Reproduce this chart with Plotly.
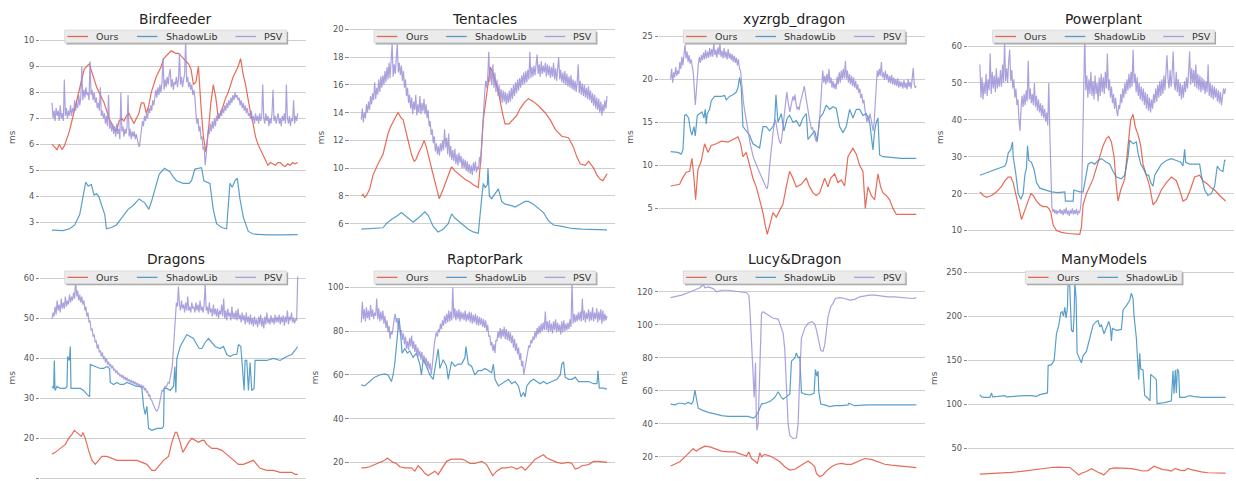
import numpy as np
import plotly.graph_objects as go

# ---------------- data (frames on x, milliseconds on y) ----------------
# Birdfeeder
bird_ours = [6.0, 5.9, 5.8, 6.0, 5.8, 5.95, 6.2, 6.5, 6.9, 7.3,
             7.6, 8.0, 8.5, 8.9, 9.0, 9.1, 8.8, 8.5, 8.2, 8.0,
             7.8, 7.6, 7.3, 7.0, 6.8, 6.6, 6.5, 6.9, 7.0, 6.9,
             7.1, 7.2, 7.0, 6.8, 7.0, 7.2, 7.6, 7.6, 7.2, 7.5,
             8.0, 8.3, 8.6, 8.8, 9.0, 9.3, 9.4, 9.5, 9.6, 9.55,
             9.5, 9.5, 9.4, 9.3, 9.2, 9.1, 8.9, 8.3, 8.4, 9.0,
             7.5, 6.3, 5.7, 6.5, 7.6, 8.3, 7.8, 7.0, 7.2, 7.5,
             7.8, 8.0, 8.3, 8.6, 8.8, 9.0, 9.3, 8.7, 8.3, 7.7,
             7.2, 6.8, 6.3, 6.0, 5.8, 5.6, 5.4, 5.2, 5.3, 5.25,
             5.2, 5.3, 5.3, 5.2, 5.15, 5.25, 5.2, 5.3, 5.25, 5.3]
bird_shadow_t = [0, 33, 53, 68, 83, 91, 98, 101, 108, 118, 126, 133, 140, 148, 158, 163, 178, 193, 208, 228,
                 243, 261, 278, 290, 298, 308, 321, 337, 353, 363, 373, 393, 411, 418, 428, 448, 455, 473, 483, 493,
                 508, 523, 528, 533, 540, 548, 555, 563, 573, 588, 603, 643, 693, 736]
bird_shadow = [2.70, 2.68, 2.75, 2.9, 3.3, 3.8, 4.3, 4.55, 4.4, 4.45, 4.05, 4.1, 4.0, 3.7, 3.3, 2.75, 2.8, 2.9, 3.15, 3.5,
               3.65, 3.9, 3.75, 3.5, 3.8, 4.3, 4.85, 5.08, 4.95, 4.75, 4.6, 4.5, 4.5, 4.6, 5.05, 5.1, 4.6, 4.5, 3.5, 2.95,
               2.8, 2.75, 3.5, 4.5, 4.35, 4.6, 4.7, 3.9, 3.2, 2.65, 2.55, 2.52, 2.52, 2.53]
bird_psv = [7.6, 7.0, 7.3, 6.9, 7.4, 7.1, 7.3, 6.9, 7.5, 7.0, 7.2, 6.9, 8.5, 7.1, 7.4, 7.0, 7.3, 7.1, 7.5, 7.1,
            7.4, 7.2, 7.7, 7.3, 7.6, 7.4, 7.9, 7.5, 7.8, 9.0, 7.7, 8.1, 7.8, 8.2, 7.9, 8.0, 7.7, 9.2, 7.9, 8.1,
            7.7, 8.0, 7.6, 7.8, 7.4, 7.6, 7.3, 8.2, 7.1, 7.3, 7.0, 7.2, 6.8, 7.1, 6.7, 7.9, 6.6, 6.9, 6.5, 6.8,
            6.4, 6.7, 6.3, 6.8, 6.4, 6.6, 6.2, 8.0, 6.5, 6.7, 6.3, 6.6, 6.4, 6.7, 7.9, 6.3, 6.6, 6.2, 6.5, 6.3,
            6.5, 6.2, 6.4, 6.1, 6.0, 5.9, 6.3, 6.6, 6.9, 6.7, 7.1, 6.9, 7.2, 7.0, 7.4, 7.2, 7.5, 7.3, 7.7, 7.5,
            7.8, 8.1, 7.8, 8.2, 7.9, 8.3, 8.0, 8.4, 9.3, 8.1, 8.5, 8.2, 8.6, 8.3, 8.7, 8.9, 8.2, 8.5, 8.1, 8.4,
            8.3, 8.6, 8.2, 8.5, 9.5, 8.3, 8.6, 8.2, 8.5, 8.7, 10.0, 8.4, 8.6, 8.2, 8.4, 8.1, 8.3, 7.9, 8.1, 7.8,
            7.2, 6.8, 7.0, 6.5, 6.7, 6.2, 6.3, 5.8, 5.9, 5.2, 5.6, 6.3, 6.6, 6.4, 6.8, 6.5, 6.9, 6.6, 7.0, 6.7,
            7.1, 6.9, 7.2, 7.0, 7.3, 7.1, 7.4, 7.2, 7.5, 7.3, 7.6, 7.4, 7.7, 7.5, 7.8, 7.6, 7.9, 7.7, 8.0, 7.8,
            7.9, 7.7, 7.8, 7.5, 7.7, 7.4, 7.6, 7.3, 7.5, 7.2, 7.4, 7.1, 7.2, 7.0, 7.3, 6.9, 7.1, 6.8, 7.2, 6.9,
            7.1, 6.8, 7.2, 6.9, 7.1, 8.3, 7.0, 6.8, 7.2, 6.9, 7.1, 6.7, 7.0, 6.8, 7.2, 8.1, 6.9, 7.1, 6.8, 7.0,
            7.2, 6.8, 7.0, 6.7, 7.1, 6.9, 7.2, 6.8, 8.3, 7.0, 6.8, 7.1, 6.7, 7.0, 6.9, 7.7, 6.8, 7.1, 6.9, 7.2]

# Tentacles
tent_ours_t = [0, 5, 10, 15, 25, 35, 50, 65, 80, 88, 105, 110, 120, 125, 135, 150, 158, 163, 173, 180,
               188, 195, 210, 225, 233, 245, 260, 270, 280, 295, 310, 325, 335, 350, 357, 365, 375, 386, 395, 410,
               422, 430, 442, 455, 465, 475, 490, 500, 515, 530, 550, 565, 580, 600, 620, 635, 645, 655, 670, 680,
               695, 705, 715, 723, 735]
tent_ours = [8.0, 8.1, 7.9, 8.0, 8.5, 9.5, 10.3, 11.0, 12.5, 13.0, 13.8, 14.0, 13.6, 13.5, 12.5, 11.0, 10.5, 10.6, 11.2, 11.5,
             12.0, 11.5, 10.0, 8.5, 7.8, 8.5, 9.5, 10.1, 9.8, 9.5, 9.2, 9.0, 8.8, 8.6, 10.5, 13.5, 15.5, 17.3, 16.8, 15.5,
             14.0, 13.2, 13.2, 13.5, 13.8, 14.3, 14.8, 15.0, 14.8, 14.5, 14.0, 13.5, 12.8, 12.3, 12.2, 11.5, 10.8, 10.3, 10.2, 10.5,
             10.0, 9.5, 9.2, 9.1, 9.6]
tent_shadow_t = [0, 30, 45, 65, 75, 90, 110, 120, 130, 145, 155, 175, 190, 200, 215, 230, 245, 260, 270, 280,
                 300, 320, 335, 350, 360, 365, 370, 377, 379, 383, 390, 400, 410, 420, 430, 450, 460, 475, 490, 500,
                 515, 530, 545, 560, 575, 600, 630, 660, 690, 735]
tent_shadow = [5.6, 5.65, 5.7, 5.7, 6.0, 6.3, 6.6, 6.8, 6.6, 6.3, 6.1, 6.5, 6.85, 6.6, 5.8, 5.4, 5.6, 6.0, 6.7, 6.4,
               6.0, 5.6, 5.4, 5.3, 7.8, 8.9, 8.6, 8.8, 10.0, 8.0, 7.8, 8.2, 8.5, 7.6, 7.4, 7.3, 7.2, 7.4, 7.6, 7.6,
               7.4, 7.1, 6.8, 6.2, 5.9, 5.8, 5.65, 5.6, 5.6, 5.55]
tent_psv = [13.5, 14.3, 13.3, 14.0, 13.6, 14.6, 14.0, 14.8, 14.2, 15.2, 14.6, 15.4, 14.9, 16.2, 15.0, 15.8, 15.3, 16.4, 15.5, 16.6,
            15.8, 16.7, 16.0, 17.0, 16.2, 17.3, 16.4, 17.6, 16.5, 17.8, 19.0, 16.6, 17.5, 16.8, 17.9, 19.0, 16.9, 17.6, 16.7, 17.4,
            16.3, 17.0, 15.8, 16.4, 15.2, 15.8, 14.7, 15.3, 14.3, 15.1, 13.9, 14.8, 14.2, 15.3, 13.8, 14.6, 14.0, 15.2, 13.9, 14.7,
            14.1, 15.0, 13.9, 14.6, 13.6, 14.2, 13.0, 13.4, 12.4, 12.8, 11.8, 12.3, 11.2, 11.8, 11.0, 11.6, 10.9, 11.8, 11.2, 12.0,
            11.3, 12.8, 11.5, 12.2, 11.0, 12.5, 10.8, 11.6, 10.6, 11.3, 10.5, 11.4, 10.3, 11.0, 10.2, 11.1, 10.4, 10.9, 10.0, 10.7,
            10.0, 10.6, 9.8, 10.5, 9.7, 10.3, 9.6, 10.2, 9.5, 10.4, 9.8, 10.5, 9.7, 10.1, 9.9, 10.8, 10.3, 11.8, 13.5, 14.8,
            15.4, 16.3, 15.8, 16.6, 18.4, 16.2, 17.2, 16.0, 17.5, 15.8, 16.9, 15.5, 16.4, 15.2, 16.0, 14.9, 15.7, 14.7, 15.6, 14.8,
            15.5, 14.6, 15.4, 14.7, 15.6, 14.8, 15.8, 15.0, 16.0, 15.2, 16.2, 15.4, 16.4, 15.6, 16.5, 15.8, 16.7, 16.0, 16.9, 16.1,
            17.0, 16.2, 17.1, 16.4, 18.4, 16.5, 17.3, 16.6, 17.4, 16.7, 17.6, 18.2, 16.8, 17.5, 16.6, 17.7, 16.8, 17.4, 16.9, 17.6,
            16.6, 17.5, 16.7, 17.4, 16.5, 17.3, 16.6, 17.6, 16.4, 17.2, 16.3, 17.0, 18.0, 16.4, 17.1, 16.2, 16.9, 16.1, 17.0, 16.0,
            16.8, 15.9, 16.6, 15.8, 16.7, 15.7, 16.4, 15.6, 16.3, 15.5, 16.2, 17.5, 15.4, 16.3, 15.3, 16.1, 15.2, 16.0, 15.1, 15.8,
            15.0, 15.9, 14.9, 15.6, 14.7, 15.4, 14.5, 15.3, 14.3, 15.1, 14.2, 15.0, 14.0, 14.8, 13.8, 14.6, 14.1, 14.9, 14.3, 15.2]

# xyzrgb_dragon
xyz_ours_t = [0, 12, 27, 37, 47, 57, 64, 69, 75, 82, 92, 102, 112, 122, 137, 152, 172, 187, 202, 210,
              217, 227, 237, 247, 257, 267, 277, 284, 290, 297, 307, 317, 327, 337, 347, 357, 367, 377, 392, 407,
              417, 427, 437, 447, 462, 472, 480, 492, 502, 512, 522, 532, 547, 557, 567, 577, 584, 592, 602, 612,
              622, 630, 637, 647, 657, 667, 677, 692, 712, 737]
xyz_ours = [7.6, 7.7, 7.8, 8.6, 9.2, 9.3, 10.8, 9.0, 6.0, 9.5, 10.5, 12.5, 11.5, 12.3, 12.5, 12.8, 12.7, 13.0, 13.3, 12.5,
            11.0, 11.5, 10.0, 8.5, 7.5, 6.0, 4.5, 3.0, 2.0, 3.0, 4.5, 4.0, 4.8, 5.5, 7.5, 9.3, 8.5, 7.5, 7.8, 8.5,
            7.5, 6.8, 6.5, 6.8, 8.5, 7.5, 8.5, 9.0, 8.0, 8.3, 7.6, 11.0, 12.0, 11.3, 10.0, 9.3, 5.0, 7.5, 6.5, 6.0,
            9.0, 7.5, 6.8, 6.5, 6.0, 5.0, 4.3, 4.3, 4.3, 4.3]
xyz_shadow_t = [0, 22, 32, 37, 40, 42, 47, 54, 60, 64, 70, 74, 80, 87, 94, 100, 104, 107, 110, 117,
                122, 132, 152, 162, 167, 177, 187, 197, 202, 207, 212, 217, 227, 237, 247, 257, 267, 277, 287, 297,
                307, 312, 316, 322, 332, 340, 350, 357, 367, 377, 387, 397, 407, 412, 422, 432, 440, 447, 457, 467,
                477, 487, 497, 507, 517, 527, 537, 547, 557, 567, 577, 587, 597, 607, 612, 617, 622, 627, 637, 662,
                692, 737]
xyz_shadow = [11.6, 11.5, 11.3, 11.8, 14.0, 15.8, 15.9, 15.5, 14.0, 13.5, 14.5, 13.4, 15.8, 16.0, 16.2, 15.5, 16.5, 14.8, 16.0, 16.5,
              17.5, 18.0, 18.0, 18.1, 17.6, 18.0, 18.2, 18.5, 19.0, 20.2, 19.0, 14.5, 14.0, 13.5, 12.5, 12.2, 12.0, 14.5, 14.5, 14.0,
              14.5, 15.0, 18.2, 15.0, 16.0, 14.0, 15.5, 15.8, 15.0, 15.2, 14.5, 15.5, 16.0, 13.0, 13.5, 14.0, 12.8, 15.5, 16.0, 17.0,
              16.5, 16.8, 16.6, 14.5, 13.8, 14.5, 16.5, 15.5, 16.5, 16.5, 15.8, 16.0, 15.0, 11.8, 14.0, 15.0, 15.5, 11.2, 11.0, 10.9,
              10.8, 10.8]
xyz_psv = [20.0, 21.2, 19.6, 20.8, 20.2, 21.4, 20.4, 21.0, 20.6, 22.0, 21.2, 22.6, 21.6, 23.0, 24.0, 22.4, 23.2, 22.0, 22.8, 21.8,
           22.3, 21.5, 20.8, 19.0, 17.0, 18.5, 21.0, 21.8, 22.6, 21.9, 22.8, 22.2, 23.1, 22.3, 23.4, 22.4, 23.2, 22.5, 23.6, 22.6,
           23.5, 22.6, 24.2, 22.8, 23.4, 22.5, 23.7, 22.8, 24.1, 22.6, 23.3, 22.4, 23.6, 22.5, 23.2, 22.3, 23.5, 22.4, 23.0, 22.2,
           22.9, 22.0, 22.7, 21.9, 22.5, 21.6, 22.3, 21.2, 21.0, 19.5, 18.0, 17.2, 16.4, 15.6, 15.0, 14.2, 13.5, 12.8, 12.2, 11.5,
           11.2, 10.8, 10.4, 10.2, 9.9, 9.6, 9.3, 9.1, 8.8, 8.5, 8.2, 7.9, 7.6, 7.4, 7.3, 8.0, 9.5, 10.8, 12.0, 13.2,
           14.2, 14.8, 15.3, 14.6, 13.6, 13.2, 12.8, 12.5, 13.0, 14.2, 15.2, 16.0, 17.2, 18.5, 17.6, 16.8, 16.2, 16.8, 17.4, 18.0,
           17.5, 18.2, 17.2, 16.5, 16.8, 16.4, 17.2, 17.6, 18.0, 18.6, 19.2, 18.4, 17.6, 16.6, 16.0, 15.4, 14.8, 14.2, 14.4, 13.8,
           13.5, 13.0, 12.7, 13.4, 14.2, 15.4, 17.5, 19.8, 21.0, 19.6, 20.4, 19.4, 20.6, 19.6, 21.2, 19.5, 20.2, 19.0, 19.8, 18.9,
           19.5, 18.8, 20.3, 19.4, 20.8, 19.6, 21.0, 20.0, 21.2, 20.1, 22.1, 20.0, 21.0, 19.6, 20.6, 19.4, 20.4, 19.2, 20.2, 19.0,
           19.8, 18.8, 19.4, 18.4, 18.9, 17.8, 18.3, 17.2, 17.6, 16.5, 15.4, 15.0, 15.8, 15.2, 16.0, 15.2, 14.4, 14.0, 15.0, 17.0,
           20.2, 21.0, 20.3, 21.2, 20.4, 22.0, 20.2, 20.8, 19.9, 21.0, 20.0, 20.6, 19.6, 20.4, 19.5, 20.5, 19.4, 20.2, 19.3, 20.0,
           19.2, 20.1, 19.0, 19.8, 19.1, 19.7, 18.9, 19.9, 19.0, 19.6, 18.8, 20.0, 19.1, 19.7, 18.9, 19.8, 21.3, 19.4, 19.0, 19.2]

# Powerplant
pp_ours_t = [0, 10, 20, 35, 50, 65, 75, 85, 93, 100, 110, 120, 125, 133, 145, 153, 160, 170, 180, 190,
             200, 207, 213, 220, 230, 245, 265, 285, 300, 305, 310, 320, 330, 340, 350, 360, 370, 380, 387, 395,
             403, 410, 415, 423, 435, 445, 453, 460, 467, 475, 483, 490, 500, 510, 520, 530, 545, 560, 575, 590,
             600, 610, 620, 630, 645, 660, 670, 685, 695, 705, 720, 730, 738]
pp_ours = [20.5, 19.5, 19.0, 19.5, 20.5, 22.0, 23.5, 24.5, 24.5, 23.0, 19.0, 14.5, 13.0, 15.0, 18.0, 20.0, 19.5, 18.0, 17.0, 16.5,
           16.5, 16.0, 15.0, 11.5, 10.0, 9.5, 9.2, 9.0, 9.0, 11.0, 17.0, 20.0, 22.0, 24.0, 27.0, 30.0, 33.0, 35.0, 35.5, 34.0,
           30.0, 22.0, 18.0, 21.0, 24.0, 33.0, 40.0, 41.5, 38.0, 36.0, 33.0, 28.0, 25.0, 22.0, 17.0, 18.0, 21.0, 23.0, 24.5, 23.5,
           21.0, 18.0, 18.5, 20.5, 24.5, 25.0, 23.5, 22.5, 21.5, 21.0, 19.5, 18.5, 18.0]
pp_shadow_t = [0, 15, 35, 55, 75, 80, 85, 93, 98, 100, 107, 115, 123, 130, 135, 140, 143, 147, 155, 163,
               170, 180, 195, 215, 235, 255, 257, 280, 282, 300, 310, 320, 325, 335, 345, 355, 365, 380, 390, 400,
               410, 425, 435, 445, 450, 460, 470, 475, 483, 490, 500, 507, 513, 520, 525, 535, 545, 560, 575, 590,
               603, 610, 615, 618, 630, 645, 660, 665, 675, 685, 695, 705, 713, 720, 730, 735, 738]
pp_shadow = [25.0, 25.5, 26.0, 26.8, 27.5, 28.5, 31.0, 32.0, 34.0, 30.0, 26.0, 20.0, 18.5, 20.0, 25.0, 27.0, 33.0, 29.0, 28.5, 26.5,
             23.0, 21.5, 21.0, 20.5, 20.3, 20.5, 18.0, 18.0, 21.0, 20.5, 20.5, 25.0, 28.0, 28.5, 28.0, 29.0, 29.5, 28.5, 28.0, 26.0,
             24.5, 24.0, 25.0, 30.0, 34.5, 33.5, 34.0, 31.0, 28.0, 27.0, 25.0, 25.0, 23.0, 22.0, 25.0, 26.5, 28.0, 29.0, 29.5, 29.0,
             28.5, 27.5, 32.0, 28.5, 28.0, 28.0, 28.0, 25.0, 21.0, 19.5, 20.0, 22.0, 27.5, 26.5, 26.0, 29.0, 29.0]
pp_psv = [55.0, 46.0, 51.5, 45.5, 50.0, 47.0, 52.5, 46.5, 51.0, 48.0, 58.0, 47.0, 53.0, 48.5, 52.0, 47.5, 54.0, 48.5, 51.5, 49.0,
          53.5, 49.0, 55.0, 50.0, 61.0, 50.5, 54.0, 50.0, 56.0, 59.0, 50.5, 53.5, 48.5, 51.0, 46.0, 48.5, 44.0, 45.5, 40.0, 37.0,
          43.0, 46.5, 43.5, 47.0, 44.0, 48.0, 45.0, 56.0, 45.5, 48.5, 44.5, 47.0, 44.0, 50.0, 43.5, 46.5, 42.5, 45.5, 42.0, 44.5,
          41.0, 44.0, 40.5, 43.0, 39.5, 42.0, 38.5, 50.0, 37.0, 28.0, 16.5, 15.0, 15.8, 14.6, 15.6, 14.4, 15.4, 14.8, 15.8, 14.5,
          15.5, 14.2, 15.8, 14.6, 16.2, 14.4, 15.4, 14.0, 15.6, 14.6, 16.0, 14.3, 15.5, 14.5, 15.9, 14.2, 15.3, 14.8, 16.4, 20.0,
          38.0, 47.0, 63.0, 48.0, 52.0, 46.0, 51.0, 47.0, 53.0, 46.5, 50.5, 45.5, 52.0, 47.0, 50.0, 45.0, 51.5, 46.5, 52.5, 47.5,
          51.5, 47.0, 53.0, 48.5, 58.0, 48.0, 51.0, 46.0, 49.0, 44.5, 47.0, 43.0, 46.0, 42.5, 41.0, 44.0, 43.0, 47.0, 44.5, 48.5,
          46.0, 50.0, 47.0, 51.0, 48.0, 52.5, 48.5, 53.0, 49.0, 59.0, 50.0, 52.5, 47.5, 51.5, 46.5, 50.0, 45.5, 49.0, 45.0, 48.5,
          44.0, 47.5, 43.0, 47.0, 42.5, 46.0, 42.0, 45.5, 43.0, 47.0, 44.5, 48.5, 45.0, 49.5, 46.0, 50.5, 46.5, 51.0, 47.0, 52.0,
          48.0, 53.0, 57.5, 51.0, 48.5, 53.5, 49.0, 52.5, 58.5, 50.0, 48.0, 53.0, 47.5, 51.0, 46.5, 50.0, 45.5, 49.5, 46.0, 50.5,
          47.5, 51.5, 48.5, 53.0, 58.5, 49.5, 54.0, 50.0, 53.5, 49.0, 55.0, 48.5, 52.5, 48.0, 52.0, 47.5, 51.5, 48.0, 51.0, 47.0,
          50.5, 47.5, 55.0, 46.5, 50.0, 46.0, 49.5, 45.5, 49.0, 46.0, 48.5, 45.0, 48.0, 44.5, 47.5, 44.0, 46.5, 48.5, 47.0, 48.5]

# Dragons
drag_ours_t = [0, 10, 25, 40, 50, 60, 67, 75, 83, 88, 93, 100, 110, 120, 130, 140, 150, 165, 180, 195,
               215, 235, 255, 270, 285, 300, 310, 320, 335, 350, 360, 370, 375, 385, 393, 400, 410, 420, 430, 440,
               450, 457, 465, 480, 495, 510, 525, 545, 560, 575, 590, 605, 615, 625, 645, 665, 685, 705, 720, 730,
               738]
drag_ours = [16.0, 16.5, 17.5, 18.5, 20.0, 21.0, 22.0, 21.5, 21.0, 20.5, 21.5, 20.0, 17.0, 14.5, 13.5, 14.5, 15.5, 15.5, 15.0, 14.5,
             14.5, 14.5, 14.5, 14.0, 13.5, 12.0, 12.0, 13.0, 14.5, 15.5, 19.0, 21.5, 21.5, 19.0, 16.5, 17.5, 19.0, 20.0, 19.5, 19.0,
             19.5, 19.5, 18.5, 17.5, 17.5, 17.0, 16.0, 14.5, 13.5, 13.5, 14.0, 14.5, 13.5, 12.5, 12.0, 12.0, 11.5, 11.5, 11.5, 11.0,
             11.0]
drag_shadow_t = [0, 5, 7, 9, 15, 25, 40, 45, 47, 52, 55, 57, 70, 85, 95, 105, 113, 115, 130, 145,
                 155, 165, 173, 175, 185, 195, 205, 215, 225, 240, 255, 265, 270, 275, 280, 285, 290, 300, 315, 330,
                 335, 337, 345, 355, 365, 369, 372, 375, 385, 395, 405, 415, 425, 435, 442, 450, 460, 470, 480, 490,
                 505, 515, 525, 535, 545, 555, 560, 567, 570, 577, 580, 585, 590, 595, 600, 607, 610, 625, 645, 665,
                 685, 705, 720, 730, 738]
drag_shadow = [33.0, 32.5, 39.5, 32.0, 33.0, 32.5, 32.5, 33.0, 40.5, 39.5, 43.0, 32.5, 32.5, 32.5, 32.0, 31.0, 30.5, 38.5, 38.0, 37.5,
               37.5, 38.0, 37.5, 34.0, 33.5, 34.0, 33.5, 33.5, 34.0, 33.5, 33.0, 33.0, 32.5, 28.0, 26.0, 28.0, 22.5, 22.0, 22.5, 22.5,
               23.0, 32.5, 32.5, 32.0, 33.0, 38.0, 31.5, 40.0, 43.0, 44.5, 46.0, 45.5, 45.0, 43.5, 42.5, 42.5, 44.0, 45.0, 44.0, 43.0,
               42.5, 43.0, 41.0, 40.5, 41.0, 41.0, 43.5, 43.0, 40.0, 32.0, 39.5, 39.5, 32.0, 39.0, 32.0, 32.5, 39.5, 39.5, 39.5, 40.0,
               39.5, 40.5, 41.0, 42.0, 43.0]
drag_psv = [50.0, 51.5, 50.5, 53.0, 51.0, 54.5, 52.0, 53.5, 51.5, 55.0, 52.5, 54.0, 52.5, 55.5, 53.0, 54.5, 53.5, 56.0, 54.0, 55.5,
            54.5, 56.5, 55.0, 59.5, 55.5, 57.0, 54.5, 56.0, 54.0, 55.5, 53.5, 54.5, 52.0, 53.0, 50.5, 51.5, 49.0, 49.5, 47.0, 47.5,
            45.5, 46.0, 44.0, 44.5, 42.5, 43.5, 41.5, 42.0, 40.5, 41.5, 39.8, 40.5, 39.0, 40.0, 38.5, 39.2, 38.0, 38.6, 37.5, 38.2,
            37.0, 37.4, 36.4, 37.0, 36.0, 36.4, 35.5, 36.0, 35.2, 35.8, 34.8, 35.4, 34.5, 35.2, 34.3, 34.8, 34.0, 34.6, 33.8, 34.4,
            33.6, 34.2, 33.3, 33.9, 33.0, 33.6, 32.8, 33.4, 32.5, 33.2, 32.0, 32.6, 31.5, 31.8, 30.5, 31.0, 29.8, 29.5, 28.8, 28.2,
            27.5, 27.0, 26.8, 27.2, 28.0, 29.5, 31.5, 32.0, 31.8, 32.5, 33.0, 32.8, 33.5, 34.0, 33.8, 35.0, 36.0, 38.0, 42.0, 46.0,
            52.0, 54.0, 53.0, 58.0, 53.5, 52.0, 54.5, 52.5, 53.5, 51.5, 54.0, 52.0, 55.5, 52.0, 53.0, 51.5, 54.0, 52.5, 53.0, 51.5,
            54.0, 52.0, 53.5, 51.5, 54.5, 52.0, 53.0, 51.5, 53.5, 58.5, 52.0, 53.0, 51.0, 54.0, 51.5, 52.5, 50.5, 53.5, 51.0, 52.5,
            50.5, 52.5, 50.0, 52.0, 51.0, 53.5, 50.5, 55.0, 50.0, 52.0, 49.5, 52.5, 50.5, 51.5, 49.5, 53.0, 50.0, 51.5, 49.8, 52.0,
            49.5, 52.5, 49.8, 51.0, 49.0, 51.5, 49.5, 50.8, 48.5, 51.5, 49.0, 50.5, 48.5, 51.0, 48.5, 50.2, 48.0, 50.5, 48.5, 49.8,
            47.8, 50.5, 48.5, 51.0, 48.0, 50.0, 47.5, 50.5, 48.5, 51.5, 48.8, 50.0, 48.5, 50.8, 49.0, 50.2, 48.5, 51.0, 49.0, 50.5,
            49.0, 51.0, 48.5, 50.5, 49.0, 50.8, 48.2, 50.5, 49.0, 52.0, 48.5, 50.5, 49.5, 51.5, 49.0, 50.2, 48.8, 50.0, 49.5, 60.5]

# RaptorPark
rap_ours_t = [0, 10, 25, 40, 55, 70, 78, 85, 95, 105, 115, 130, 150, 160, 170, 180, 190, 200, 210, 220,
              230, 245, 255, 270, 285, 300, 310, 325, 340, 360, 375, 385, 393, 405, 420, 435, 450, 465, 480, 490,
              500, 520, 535, 545, 555, 570, 585, 600, 620, 630, 640, 650, 660, 680, 695, 710, 725, 735]
rap_ours = [17.5, 17.5, 18.0, 19.0, 20.0, 21.0, 22.0, 21.0, 20.0, 19.5, 18.0, 17.5, 17.5, 16.0, 18.5, 17.0, 15.0, 14.0, 15.0, 16.0,
            14.5, 18.0, 20.5, 21.5, 21.5, 21.5, 21.0, 19.5, 19.5, 20.5, 19.0, 16.5, 14.0, 16.0, 17.5, 17.5, 18.0, 17.0, 18.0, 16.5,
            18.0, 21.5, 22.5, 23.5, 22.0, 21.0, 20.0, 19.5, 20.0, 19.5, 17.0, 17.5, 18.5, 19.0, 20.5, 20.5, 20.0, 20.0]
rap_shadow_t = [0, 10, 25, 40, 55, 70, 80, 90, 95, 100, 105, 110, 113, 118, 122, 130, 138, 145, 155, 165,
                175, 180, 185, 195, 205, 215, 223, 230, 235, 245, 255, 260, 270, 280, 290, 300, 310, 313, 320, 330,
                340, 350, 360, 370, 380, 390, 395, 400, 410, 420, 430, 440, 450, 460, 470, 478, 485, 490, 495, 505,
                515, 525, 535, 545, 555, 570, 585, 595, 600, 605, 610, 620, 630, 640, 650, 665, 680, 695, 705, 708,
                712, 725, 735]
rap_shadow = [55.5, 55.0, 57.0, 59.0, 60.0, 60.5, 60.0, 57.0, 60.0, 65.0, 73.0, 83.0, 86.0, 78.0, 70.0, 72.0, 70.0, 71.0, 68.0, 70.0,
              65.0, 60.0, 67.0, 64.0, 60.0, 58.0, 65.0, 72.0, 63.0, 67.0, 64.0, 58.0, 66.0, 64.0, 65.0, 65.0, 68.0, 73.0, 65.0, 64.0,
              60.0, 62.0, 62.0, 63.0, 62.0, 61.0, 65.0, 58.0, 55.0, 56.0, 57.0, 58.0, 56.0, 57.0, 55.0, 50.0, 52.0, 50.0, 55.0, 57.0,
              58.0, 57.0, 56.0, 57.0, 56.0, 57.0, 58.0, 60.0, 65.0, 66.0, 59.0, 58.0, 58.0, 59.0, 57.0, 57.0, 57.0, 56.0, 56.0, 62.0,
              54.0, 54.0, 53.5]
rap_psv = [84.0, 93.5, 85.5, 90.0, 84.5, 91.0, 86.0, 89.5, 85.0, 92.0, 86.5, 90.0, 85.5, 88.5, 87.0, 95.0, 85.5, 90.5, 84.5, 89.0,
           85.0, 89.5, 83.5, 87.0, 81.5, 85.0, 79.5, 82.5, 76.5, 80.0, 78.5, 83.0, 85.5, 88.0, 84.0, 86.0, 81.0, 83.5, 78.5, 80.5,
           76.0, 79.0, 74.0, 77.5, 72.0, 75.5, 71.5, 77.0, 73.0, 78.0, 72.0, 75.5, 70.5, 74.0, 69.0, 72.5, 68.5, 71.0, 67.0, 70.5,
           66.0, 69.0, 65.0, 68.0, 63.5, 66.5, 62.5, 65.5, 60.0, 64.0, 70.0, 74.0, 77.0, 79.5, 77.5, 81.0, 79.5, 83.5, 81.0, 85.0,
           82.5, 87.0, 83.5, 88.0, 84.0, 89.5, 84.5, 89.0, 85.0, 100.0, 86.0, 90.5, 85.0, 89.5, 85.5, 90.0, 84.5, 89.0, 85.5, 88.5,
           85.0, 89.5, 84.5, 88.0, 85.0, 89.0, 84.0, 88.5, 83.5, 87.5, 84.0, 88.0, 83.0, 87.0, 82.5, 86.5, 83.0, 86.0, 82.0, 85.5,
           81.5, 85.0, 80.0, 83.0, 77.5, 78.0, 73.5, 75.0, 71.0, 74.0, 70.0, 76.0, 75.5, 80.0, 77.0, 81.5, 76.5, 81.0, 77.5, 82.0,
           76.5, 81.0, 76.0, 80.0, 75.5, 79.5, 74.5, 78.0, 72.5, 76.5, 71.0, 74.5, 69.5, 72.5, 67.0, 70.0, 64.0, 66.5, 60.0, 63.0,
           66.0, 69.5, 71.0, 73.5, 72.5, 76.0, 74.5, 77.5, 76.0, 80.0, 77.0, 81.5, 78.5, 82.5, 79.0, 83.5, 80.0, 84.0, 80.5, 89.0,
           80.5, 84.5, 79.5, 85.0, 80.0, 83.5, 79.0, 84.5, 80.5, 85.5, 79.5, 84.0, 80.0, 83.0, 78.5, 84.5, 79.5, 85.0, 80.0, 83.5,
           80.5, 84.0, 81.0, 85.5, 82.0, 103.0, 83.5, 88.0, 84.0, 87.5, 84.5, 88.5, 85.0, 89.0, 84.5, 95.0, 85.0, 89.5, 84.0, 88.5,
           85.5, 90.0, 84.5, 89.0, 85.0, 91.0, 84.5, 88.5, 85.5, 90.5, 84.0, 89.0, 85.0, 90.0, 83.5, 89.5, 84.5, 88.0, 85.0, 87.0]

# Lucy&Dragon
lucy_ours_t = [0, 13, 28, 43, 58, 68, 73, 78, 88, 103, 118, 133, 153, 173, 193, 213, 228, 235, 243, 253,
               261, 268, 273, 283, 298, 313, 328, 343, 358, 373, 388, 403, 413, 423, 433, 438, 448, 458, 468, 483,
               498, 513, 528, 543, 563, 583, 603, 623, 643, 663, 683, 703, 723, 738]
lucy_ours = [14.5, 15.5, 17.0, 20.0, 23.0, 25.0, 24.0, 23.5, 25.0, 26.5, 26.0, 25.0, 23.5, 23.0, 23.0, 21.5, 20.5, 23.0, 19.0, 17.5,
             16.0, 22.5, 20.0, 21.5, 20.5, 19.0, 17.0, 14.0, 12.0, 12.5, 14.5, 16.5, 17.5, 16.0, 14.0, 10.0, 8.0, 9.0, 11.5, 14.0,
             15.5, 16.0, 15.5, 15.5, 17.5, 19.0, 18.5, 17.0, 15.5, 15.0, 14.5, 14.0, 13.5, 13.5]
lucy_shadow_t = [0, 13, 23, 33, 43, 53, 63, 68, 73, 78, 83, 93, 113, 133, 153, 173, 193, 213, 233, 248,
                 253, 263, 273, 283, 298, 313, 323, 333, 338, 348, 358, 363, 373, 378, 383, 388, 393, 403, 418, 431,
                 435, 439, 443, 445, 451, 463, 478, 493, 513, 533, 535, 553, 593, 633, 683, 738]
lucy_shadow = [52.0, 51.5, 52.5, 52.5, 52.0, 53.0, 52.0, 54.0, 60.5, 55.0, 49.5, 48.5, 47.0, 46.0, 45.0, 44.5, 44.5, 44.5, 44.5, 43.5,
               44.0, 47.0, 52.0, 52.5, 53.5, 56.0, 59.5, 56.0, 55.0, 56.5, 58.0, 78.0, 80.0, 83.0, 80.0, 80.5, 59.0, 58.0, 57.5, 58.5,
               73.0, 69.0, 72.0, 60.0, 52.0, 51.5, 50.5, 51.0, 51.0, 51.5, 52.5, 51.0, 51.5, 51.5, 51.5, 51.5]
lucy_psv_t = [0, 13, 33, 53, 73, 88, 98, 103, 113, 128, 138, 153, 173, 193, 213, 228, 235, 238, 243, 248,
              251, 253, 255, 257, 259, 263, 268, 273, 278, 293, 308, 323, 328, 338, 343, 348, 353, 358, 368, 378,
              383, 388, 393, 403, 413, 425, 433, 438, 445, 451, 458, 463, 473, 481, 488, 495, 508, 523, 538, 553,
              568, 583, 598, 613, 633, 653, 673, 693, 713, 728, 738]
lucy_psv = [116.5, 117.0, 118.0, 119.5, 121.5, 122.5, 124.5, 122.5, 123.0, 122.0, 120.0, 121.0, 121.0, 120.5, 120.0, 119.5, 118.0, 110.0, 90.0, 65.0,
            56.0, 66.0, 77.0, 50.0, 36.0, 40.0, 70.0, 107.0, 108.0, 106.0, 104.0, 103.5, 101.0, 95.0, 85.0, 60.0, 40.0, 33.0, 31.0, 31.5,
            40.0, 70.0, 92.0, 98.0, 101.0, 102.0, 100.5, 97.0, 90.0, 84.5, 84.0, 88.0, 105.0, 111.0, 113.0, 116.0, 116.5, 116.0, 115.0, 115.5,
            117.0, 117.5, 118.0, 118.0, 117.5, 117.0, 117.0, 116.5, 116.0, 116.0, 116.5]

# ManyModels
many_ours_t = [0, 35, 65, 95, 125, 145, 165, 175, 195, 215, 235, 255, 270, 280, 290, 297, 305, 320, 335, 345,
               355, 365, 372, 380, 390, 405, 425, 445, 460, 475, 490, 505, 515, 523, 535, 550, 565, 575, 587, 600,
               615, 625, 635, 650, 665, 685, 705, 720, 738]
many_ours = [21.0, 21.5, 22.0, 23.0, 24.0, 25.0, 26.5, 27.0, 27.5, 28.5, 29.0, 28.5, 28.5, 25.5, 22.5, 20.0, 22.0, 24.0, 27.0, 24.5,
             23.0, 21.5, 20.0, 23.0, 27.0, 28.0, 28.0, 27.5, 27.0, 26.0, 24.5, 25.0, 28.0, 30.0, 28.0, 26.0, 25.5, 24.5, 27.5, 25.5,
             25.0, 27.5, 26.0, 24.5, 23.5, 22.5, 22.5, 22.0, 22.0]
many_shadow_t = [0, 5, 15, 30, 35, 38, 55, 75, 80, 95, 115, 135, 155, 170, 180, 195, 203, 205, 215, 223,
                 230, 237, 243, 247, 251, 255, 259, 263, 265, 269, 271, 275, 280, 283, 285, 289, 292, 300, 305, 310,
                 320, 330, 340, 350, 355, 360, 365, 373, 380, 387, 392, 395, 398, 410, 425, 430, 440, 450, 455, 460,
                 463, 470, 477, 480, 483, 490, 495, 505, 511, 513, 525, 530, 532, 555, 575, 580, 583, 587, 590, 593,
                 597, 600, 615, 630, 640, 665, 695, 738]
many_shadow = [111.0, 108.5, 108.0, 108.0, 113.0, 108.5, 109.0, 110.0, 108.5, 109.0, 109.0, 110.0, 110.0, 109.0, 111.0, 112.5, 113.0, 144.0, 145.0, 150.0,
               180.0, 190.0, 204.0, 205.0, 200.0, 210.0, 198.0, 210.0, 240.0, 242.0, 220.0, 184.0, 182.0, 200.0, 238.0, 220.0, 158.0, 150.0, 147.0, 155.0,
               160.0, 175.0, 190.0, 194.0, 195.0, 188.0, 190.0, 180.0, 187.0, 194.0, 187.0, 172.0, 186.0, 184.0, 185.0, 207.0, 212.0, 218.0, 226.0, 220.0,
               200.0, 175.0, 128.0, 158.0, 140.0, 139.0, 110.0, 107.0, 104.0, 134.0, 130.0, 128.0, 101.0, 102.0, 104.0, 138.0, 112.0, 139.0, 113.0, 140.0,
               137.0, 108.0, 108.0, 110.0, 109.0, 108.0, 108.0, 108.0]

titles = ["Birdfeeder", "Tentacles", "xyzrgb_dragon", "Powerplant",
          "Dragons", "RaptorPark", "Lucy&Dragon", "ManyModels"]
yticks = [[3, 4, 5, 6, 7, 8, 9, 10], [6, 8, 10, 12, 14, 16, 18, 20], [5, 10, 15, 20, 25],
          [10, 20, 30, 40, 50, 60], [10, 20, 30, 40, 50, 60], [20, 40, 60, 80, 100],
          [20, 40, 60, 80, 100, 120], [50, 100, 150, 200, 250]]


def uni(vals, span):
    return np.linspace(0, span, len(vals))


series = [
    [("Ours", uni(bird_ours, 736), bird_ours), ("ShadowLib", bird_shadow_t, bird_shadow), ("PSV", uni(bird_psv, 736), bird_psv)],
    [("Ours", tent_ours_t, tent_ours), ("ShadowLib", tent_shadow_t, tent_shadow), ("PSV", uni(tent_psv, 735), tent_psv)],
    [("Ours", xyz_ours_t, xyz_ours), ("ShadowLib", xyz_shadow_t, xyz_shadow), ("PSV", uni(xyz_psv, 737), xyz_psv)],
    [("Ours", pp_ours_t, pp_ours), ("ShadowLib", pp_shadow_t, pp_shadow), ("PSV", uni(pp_psv, 738), pp_psv)],
    [("Ours", drag_ours_t, drag_ours), ("ShadowLib", drag_shadow_t, drag_shadow), ("PSV", uni(drag_psv, 738), drag_psv)],
    [("Ours", rap_ours_t, rap_ours), ("ShadowLib", rap_shadow_t, rap_shadow), ("PSV", uni(rap_psv, 735), rap_psv)],
    [("Ours", lucy_ours_t, lucy_ours), ("ShadowLib", lucy_shadow_t, lucy_shadow), ("PSV", lucy_psv_t, lucy_psv)],
    [("Ours", many_ours_t, many_ours), ("ShadowLib", many_shadow_t, many_shadow)],
]

# ---------------- styling / layout ----------------
W, H = 1236, 481
COLORS = {"Ours": "rgba(226,74,51,0.82)", "ShadowLib": "rgba(52,138,189,0.82)", "PSV": "rgba(152,142,213,0.82)"}
FONT = "DejaVu Sans"
COL_LEFT = [40.4, 349.7, 659.0, 968.3]
PLOT_W = 265.5
ROWS = [(25.0, 240.0), (265.0, 481.0)]
DATA_L, DATA_R = 11.6, 257.3
TICK_PIX = [(10, 37.7, 3, 220.7), (20, 26.7, 6, 222.0), (25, 33.3, 5, 206.7), (60, 43.3, 10, 229.0),
            (60, 277.3, 10, 478.3), (100, 286.3, 20, 462.3), (120, 290.7, 20, 456.7), (250, 270.7, 50, 448.3)]
TITLE_Y = [16, 258]
MS_Y = [135, 377]
LEG_TOP = [27.3, 269.7]
LEG_H = 12.8
LEG_FS = 9.5
TEXT_W = {"Ours": 22.4, "ShadowLib": 51.5, "PSV": 18.3}   # approx rendered label widths (px)
LINE_LEN, GAP_TXT, GAP_ITEM, PAD_L, PAD_R = 20.6, 7.7, 18.7, 2.7, 4.6


def px(x):
    return x / W


def py(y):
    return 1 - y / H


fig = go.Figure()
layout = dict(width=W, height=H, margin=dict(l=0, r=0, t=0, b=0),
              paper_bgcolor="white", plot_bgcolor="white", showlegend=False,
              font=dict(family=FONT, color="#555555"))
annotations = []
shapes = []

for i, ser in enumerate(series):
    row, col = divmod(i, 4)
    left = COL_LEFT[col]
    top, bot = ROWS[row]
    suffix = "" if i == 0 else str(i + 1)
    span = max(max(s[1]) for s in ser)
    fpp = span / (DATA_R - DATA_L)
    xr = [-DATA_L * fpp, span + (PLOT_W - DATA_R) * fpp]
    v1, p1, v2, p2 = TICK_PIX[i]
    sc = (p2 - p1) / (v1 - v2)
    yr = [v2 - (bot - p2) / sc, v1 + (p1 - top) / sc]

    layout[f"xaxis{suffix}"] = dict(domain=[px(left), px(left + PLOT_W)], range=xr, anchor=f"y{suffix}",
                                    showgrid=False, zeroline=False, showticklabels=False, showline=False, ticks="")
    layout[f"yaxis{suffix}"] = dict(domain=[py(bot), py(top)], range=yr, anchor=f"x{suffix}",
                                    tickvals=yticks[i], showgrid=True, gridcolor="#CFCFCF", gridwidth=1,
                                    zeroline=False, showline=False, ticks="outside", ticklen=3.5,
                                    tickcolor="#8A8A8A", tickwidth=1,
                                    tickfont=dict(family=FONT, size=8.3, color="#555555"))
    for name, xs, ys in ser:
        fig.add_trace(go.Scatter(x=list(xs), y=ys, mode="lines", name=name,
                                 line=dict(color=COLORS[name], width=1.2),
                                 xaxis=f"x{suffix}", yaxis=f"y{suffix}", showlegend=False,
                                 hoverinfo="skip"))

    center = left + PLOT_W / 2 + 2.5
    annotations.append(dict(text=titles[i], x=px(center), y=py(TITLE_Y[row]), xref="paper", yref="paper",
                            showarrow=False, xanchor="center", yanchor="middle",
                            font=dict(family=FONT, size=13.8, color="#222222")))
    ms_off = 35 if max(yticks[i]) >= 100 else 28.5
    annotations.append(dict(text="ms", x=px(left - ms_off), y=py(MS_Y[row]), xref="paper", yref="paper",
                            showarrow=False, xanchor="center", yanchor="middle", textangle=-90,
                            font=dict(family=FONT, size=9, color="#555555")))

    # legend box drawn as shapes + text (fancy box with drop shadow)
    names = [s[0] for s in ser]
    width = PAD_L + PAD_R + sum(LINE_LEN + GAP_TXT + TEXT_W[n] for n in names) + GAP_ITEM * (len(names) - 1)
    bx0 = center - width / 2
    bx1 = center + width / 2
    by0 = LEG_TOP[row]
    by1 = by0 + LEG_H
    yc = (by0 + by1) / 2
    shapes.append(dict(type="rect", xref="paper", yref="paper", layer="above",
                       x0=px(bx0 + 1.6), x1=px(bx1 + 1.6), y0=py(by1 + 1.6), y1=py(by0 + 1.6),
                       fillcolor="#A3A3A3", line=dict(width=0)))
    shapes.append(dict(type="rect", xref="paper", yref="paper", layer="above",
                       x0=px(bx0), x1=px(bx1), y0=py(by1), y1=py(by0),
                       fillcolor="#EBEBEB", line=dict(color="#D4D4D4", width=0.8)))
    xcur = bx0 + PAD_L
    for n in names:
        shapes.append(dict(type="line", xref="paper", yref="paper", layer="above",
                           x0=px(xcur), x1=px(xcur + LINE_LEN), y0=py(yc), y1=py(yc),
                           line=dict(color=COLORS[n], width=1.3)))
        annotations.append(dict(text=n, x=px(xcur + LINE_LEN + GAP_TXT - 1.5), y=py(yc + 0.3),
                                xref="paper", yref="paper", showarrow=False,
                                xanchor="left", yanchor="middle",
                                font=dict(family=FONT, size=LEG_FS, color="#333333")))
        xcur += LINE_LEN + GAP_TXT + TEXT_W[n] + GAP_ITEM

layout["annotations"] = annotations
layout["shapes"] = shapes
fig.update_layout(**layout)
fig.write_html("out.html", config={"displayModeBar": False, "staticPlot": True},
               post_script="document.body.style.margin='0px';")
